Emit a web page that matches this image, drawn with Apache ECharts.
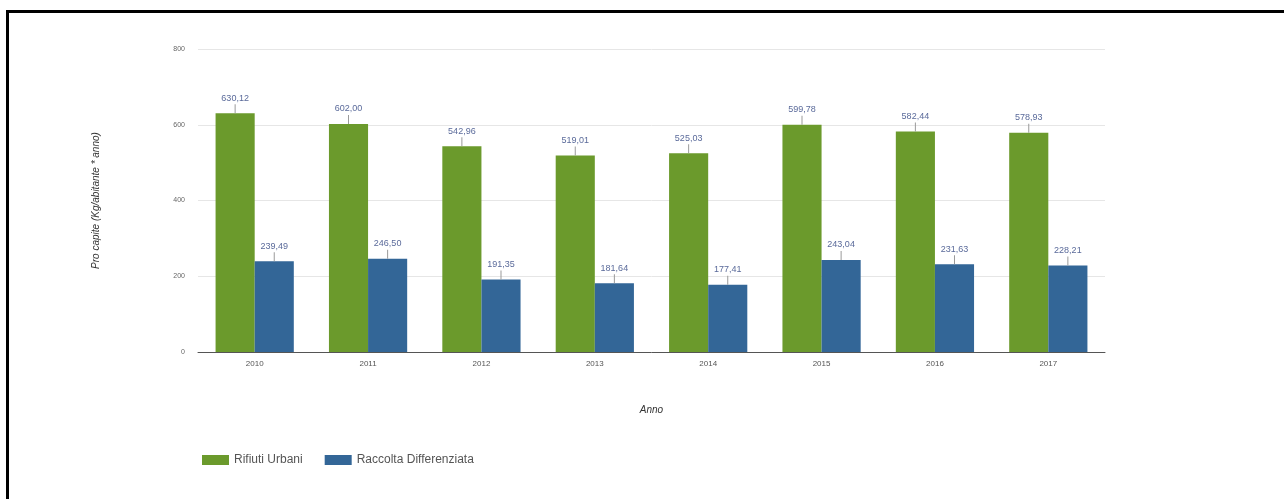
<!DOCTYPE html>
<html>
<head>
<meta charset="utf-8">
<script src="https://cdn.jsdelivr.net/npm/echarts@6/dist/echarts.min.js"></script>
<style>
  html, body { margin: 0; padding: 0; background: #fff; }
  #frame { position: absolute; left: 6px; top: 10px; width: 1278px; height: 489px;
           border-top: 3px solid #000; border-left: 3px solid #000; box-sizing: border-box; }
  #chart { position: absolute; left: 0; top: 0; width: 1284px; height: 499px; }
</style>
</head>
<body>
<div id="chart"></div>
<div id="frame"></div>
<script>
var years = ['2010', '2011', '2012', '2013', '2014', '2015', '2016', '2017'];
var rifiutiUrbani = [630.12, 602.00, 542.96, 519.01, 525.03, 599.78, 582.44, 578.93];
var raccoltaDifferenziata = [239.49, 246.50, 191.35, 181.64, 177.41, 243.04, 231.63, 228.21];
var yTicks = [0, 200, 400, 600, 800];

var chart = echarts.init(document.getElementById('chart'));

function valueLabel() {
    return {
        show: true,
        position: 'top',
        distance: 0,
        formatter: function (p) {
            return '{v|' + p.value.toFixed(2).replace('.', ',') + '}\n{t|}';
        },
        rich: {
            v: { color: '#5a6a9a', fontSize: 9, fontFamily: 'Arial', lineHeight: 12 },
            t: { width: 1, height: 9, backgroundColor: '#9a9a9a' }
        }
    };
}

var option = {
    animation: false,
    textStyle: { fontFamily: 'Arial' },
    grid: { left: 198, right: 179, top: 49, bottom: 147 },
    legend: {
        left: 197,
        top: 449,
        itemWidth: 27,
        itemHeight: 10,
        itemGap: 22,
        icon: 'rect',
        textStyle: { fontSize: 12, color: '#555' },
        data: ['Rifiuti Urbani', 'Raccolta Differenziata']
    },
    xAxis: {
        type: 'category',
        data: years,
        name: 'Anno',
        nameLocation: 'middle',
        nameGap: 53,
        nameTextStyle: { fontStyle: 'italic', fontSize: 10, color: '#333' },
        axisLine: { lineStyle: { color: '#555', width: 1 } },
        axisTick: { show: false },
        axisLabel: { fontSize: 8, color: '#555', margin: 8 }
    },
    yAxis: {
        type: 'value',
        min: 0,
        max: 800,
        interval: 200,
        name: 'Pro capite (Kg/abitante * anno)',
        nameLocation: 'middle',
        nameGap: 97,
        nameTextStyle: { fontStyle: 'italic', fontSize: 10, color: '#333' },
        axisLine: { show: false },
        axisTick: { show: false },
        splitLine: { lineStyle: { color: '#e6e6e6' } },
        axisLabel: {
            fontSize: 7, color: '#666', margin: 13,
            formatter: function (v) { return yTicks.indexOf(v) >= 0 ? String(v) : ''; }
        }
    },
    series: [
        {
            name: 'Rifiuti Urbani',
            type: 'bar',
            data: rifiutiUrbani,
            barGap: '0%',
            barCategoryGap: '31%',
            itemStyle: { color: '#6b9a2c' },
            label: valueLabel()
        },
        {
            name: 'Raccolta Differenziata',
            type: 'bar',
            data: raccoltaDifferenziata,
            itemStyle: { color: '#336697' },
            label: valueLabel()
        }
    ]
};

chart.setOption(option);
</script>
</body>
</html>
